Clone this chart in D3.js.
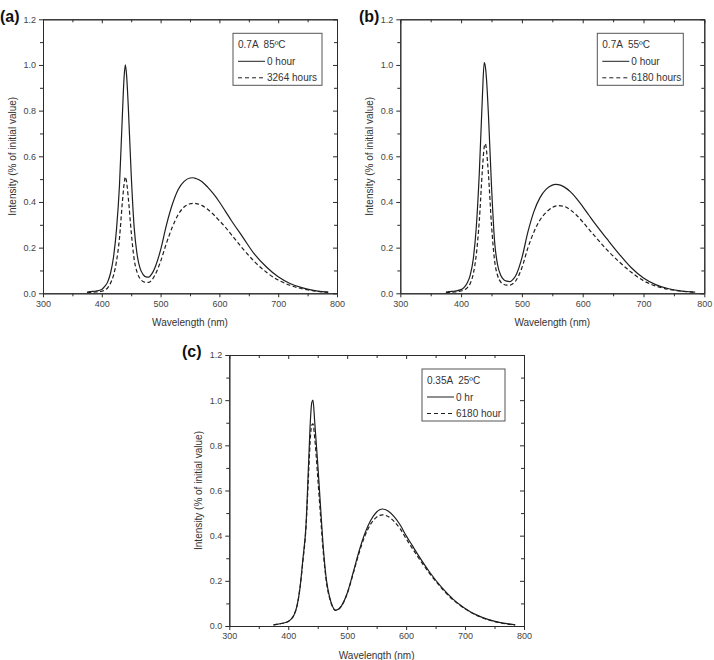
<!DOCTYPE html>
<html>
<head>
<meta charset="utf-8">
<script src="https://cdn.jsdelivr.net/npm/d3@7"></script>
<style>
  body { margin: 0; background: #fff; }
  svg { font-family: "Liberation Sans", Arial, sans-serif; }
</style>
</head>
<body>
<div id="chart"></div>
<script>
// wavelength grid (nm) shared by all series
const wavelength = [375, 380, 390, 400, 405, 410, 415, 420, 425, 430, 435, 438, 440, 442, 445, 450, 455, 460, 465, 470, 475, 480, 485, 490, 500, 510, 520, 530, 540, 550, 555, 560, 570, 580, 590, 600, 610, 620, 640, 660, 680, 700, 720, 740, 760, 780, 785];

// (a) 0.7A 85C
const a0hour = [0.005, 0.007, 0.010, 0.017, 0.03, 0.05, 0.09, 0.16, 0.28, 0.47, 0.78, 0.95, 1.00, 0.96, 0.82, 0.52, 0.29, 0.17, 0.11, 0.083, 0.072, 0.071, 0.085, 0.11, 0.19, 0.30, 0.39, 0.455, 0.49, 0.505, 0.506, 0.503, 0.49, 0.465, 0.435, 0.40, 0.36, 0.32, 0.245, 0.17, 0.115, 0.072, 0.043, 0.025, 0.013, 0.006, 0.005];
const a3264h = [0.003, 0.004, 0.006, 0.009, 0.014, 0.024, 0.045, 0.08, 0.14, 0.24, 0.40, 0.48, 0.51, 0.49, 0.42, 0.27, 0.15, 0.092, 0.064, 0.052, 0.048, 0.048, 0.058, 0.078, 0.14, 0.22, 0.29, 0.345, 0.378, 0.392, 0.394, 0.393, 0.385, 0.368, 0.345, 0.318, 0.29, 0.258, 0.195, 0.138, 0.092, 0.058, 0.035, 0.02, 0.011, 0.005, 0.004];

// (b) 0.7A 55C
const b0hour = [0.005, 0.007, 0.010, 0.016, 0.026, 0.045, 0.08, 0.15, 0.29, 0.53, 0.86, 1.01, 0.99, 0.93, 0.78, 0.47, 0.23, 0.125, 0.08, 0.06, 0.053, 0.051, 0.06, 0.078, 0.155, 0.27, 0.36, 0.42, 0.456, 0.474, 0.477, 0.476, 0.465, 0.444, 0.415, 0.38, 0.343, 0.306, 0.238, 0.172, 0.112, 0.067, 0.038, 0.021, 0.011, 0.006, 0.005];
const b6180h = [0.003, 0.004, 0.006, 0.010, 0.015, 0.024, 0.043, 0.085, 0.17, 0.32, 0.54, 0.64, 0.655, 0.62, 0.52, 0.30, 0.145, 0.078, 0.05, 0.04, 0.036, 0.036, 0.042, 0.055, 0.112, 0.20, 0.27, 0.322, 0.355, 0.376, 0.382, 0.384, 0.38, 0.365, 0.342, 0.313, 0.281, 0.25, 0.19, 0.138, 0.092, 0.055, 0.032, 0.018, 0.01, 0.005, 0.004];

// (c) 0.35A 25C
const c0hr = [0.005, 0.007, 0.012, 0.02, 0.03, 0.05, 0.09, 0.17, 0.30, 0.44, 0.75, 0.93, 0.99, 1.00, 0.90, 0.72, 0.52, 0.33, 0.20, 0.13, 0.088, 0.07, 0.074, 0.088, 0.145, 0.235, 0.33, 0.41, 0.468, 0.505, 0.515, 0.518, 0.508, 0.483, 0.447, 0.40, 0.358, 0.316, 0.238, 0.172, 0.118, 0.078, 0.048, 0.028, 0.015, 0.007, 0.005];
const c6180h = [0.005, 0.007, 0.012, 0.02, 0.03, 0.05, 0.09, 0.17, 0.29, 0.43, 0.70, 0.85, 0.89, 0.895, 0.83, 0.66, 0.48, 0.31, 0.19, 0.125, 0.086, 0.069, 0.073, 0.087, 0.143, 0.23, 0.322, 0.398, 0.452, 0.482, 0.49, 0.492, 0.484, 0.462, 0.43, 0.387, 0.346, 0.306, 0.232, 0.168, 0.115, 0.076, 0.047, 0.027, 0.014, 0.006, 0.005];

const xTicks = [300, 400, 500, 600, 700, 800];
const yTicks = [0.0, 0.2, 0.4, 0.6, 0.8, 1.0, 1.2];

const panels = [
  { tag: '(a)', title: '0.7A  85ºC', names: ['0 hour', '3264 hours'], series: [a0hour, a3264h],
    box: { x0: 43, x1: 337, y0: 19.3, y1: 293.3 }, leg: { dx: 15, w: 89 }, tagPos: [0, 22] },
  { tag: '(b)', title: '0.7A  55ºC', names: ['0 hour', '6180 hours'], series: [b0hour, b6180h],
    box: { x0: 400.3, x1: 704.3, y0: 19.3, y1: 293.3 }, leg: { dx: 21, w: 86 }, tagPos: [359, 22] },
  { tag: '(c)', title: '0.35A  25ºC', names: ['0 hr', '6180 hour'], series: [c0hr, c6180h],
    box: { x0: 229.3, x1: 524, y0: 355, y1: 626 }, leg: { dx: 19, w: 83 }, tagPos: [182, 357] }
];

const ink = '#2b2b2b';

const svg = d3.select('#chart')
  .append('svg')
    .attr('width', 714)
    .attr('height', 660);

panels.forEach(p => drawPanel(p));

function drawPanel(p) {
  const b = p.box;
  const x = d3.scaleLinear().domain([300, 800]).range([b.x0, b.x1]);
  const y = d3.scaleLinear().domain([0, 1.2]).range([b.y1, b.y0]);

  const g = svg.append('g');

  const minorX = d3.range(350, 800, 100);
  const minorY = d3.range(0.1, 1.2, 0.2);

  // left + bottom: ticks outward, top + right: ticks inward
  const axes = [
    [d3.axisBottom(x).tickValues(xTicks).tickFormat(d3.format('d')).tickSize(4), `translate(0,${b.y1})`],
    [d3.axisBottom(x).tickValues(minorX).tickFormat('').tickSize(3), `translate(0,${b.y1})`],
    [d3.axisTop(x).tickValues(xTicks).tickFormat('').tickSize(-4), `translate(0,${b.y0})`],
    [d3.axisTop(x).tickValues(minorX).tickFormat('').tickSize(-3), `translate(0,${b.y0})`],
    [d3.axisLeft(y).tickValues(yTicks).tickFormat(d3.format('.1f')).tickSize(4), `translate(${b.x0},0)`],
    [d3.axisLeft(y).tickValues(minorY).tickFormat('').tickSize(3), `translate(${b.x0},0)`],
    [d3.axisRight(y).tickValues(yTicks).tickFormat('').tickSize(-4), `translate(${b.x1},0)`],
    [d3.axisRight(y).tickValues(minorY).tickFormat('').tickSize(-3), `translate(${b.x1},0)`]
  ];
  axes.forEach(([ax, tr]) => {
    const a = g.append('g').attr('transform', tr).call(ax.tickSizeOuter(0));
    a.select('.domain').attr('stroke', ink).attr('stroke-width', 1);
    a.selectAll('.tick line').attr('stroke', ink);
    a.selectAll('text').attr('fill', '#444').attr('font-size', 9)
      .attr('font-family', '"Liberation Sans", Arial, sans-serif');
  });

  // curves
  const line = d3.line()
    .x((d, i) => x(wavelength[i]))
    .y(d => y(d))
    .curve(d3.curveMonotoneX);

  p.series.forEach((s, k) => {
    g.append('path')
      .datum(s)
      .attr('d', line)
      .attr('fill', 'none')
      .attr('stroke', '#1e1e1e')
      .attr('stroke-width', 1.2)
      .attr('stroke-dasharray', k === 1 ? '4,2.5' : null);
  });

  // axis titles
  g.append('text')
    .attr('x', (b.x0 + b.x1) / 2)
    .attr('y', b.y1 + 33)
    .attr('text-anchor', 'middle')
    .attr('font-size', 10)
    .attr('fill', '#333')
    .text('Wavelength (nm)');

  g.append('text')
    .attr('transform', `translate(${b.x0 - 27},${(b.y0 + b.y1) / 2}) rotate(-90)`)
    .attr('text-anchor', 'middle')
    .attr('font-size', 10)
    .attr('fill', '#333')
    .text('Intensity (% of initial value)');

  // panel tag
  svg.append('text')
    .attr('x', p.tagPos[0])
    .attr('y', p.tagPos[1])
    .attr('font-size', 16)
    .attr('font-weight', 'bold')
    .attr('fill', '#111')
    .text(p.tag);

  // legend
  const lx = b.x1 - p.leg.dx - p.leg.w;
  const ly = b.y0 + 14;
  const leg = g.append('g').attr('transform', `translate(${lx},${ly})`);
  leg.append('rect')
    .attr('width', p.leg.w)
    .attr('height', 52)
    .attr('fill', '#fff')
    .attr('stroke', '#555')
    .attr('stroke-width', 1);
  leg.append('text')
    .attr('x', 5).attr('y', 15)
    .attr('font-size', 10).attr('fill', '#333')
    .style('white-space', 'pre')
    .text(p.title);
  p.names.forEach((n, k) => {
    const yy = 28 + k * 16.5;
    leg.append('line')
      .attr('x1', 5).attr('x2', 32)
      .attr('y1', yy).attr('y2', yy)
      .attr('stroke', '#1e1e1e')
      .attr('stroke-width', 1)
      .attr('stroke-dasharray', k === 1 ? '4,3' : null);
    leg.append('text')
      .attr('x', 34).attr('y', yy + 3.5)
      .attr('font-size', 10).attr('fill', '#333')
      .text(n);
  });
}
</script>
</body>
</html>
